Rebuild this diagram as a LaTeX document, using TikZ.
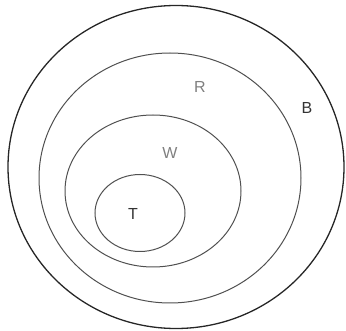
\documentclass[tikz,border=0pt]{standalone}
\usepackage{fontspec}
\setmainfont{Liberation Sans}
\usetikzlibrary{shapes.geometric}
\definecolor{SetGray}{HTML}{505050}
\definecolor{LabelGray}{HTML}{808080}

\begin{document}
\begin{tikzpicture}[x=1pt,y=-1pt,font=\fontsize{16}{18}\selectfont,
    setline/.style={draw=SetGray,line width=1pt,ellipse,inner sep=0pt},
    setlabel/.style={text=LabelGray,inner sep=0pt}]
        \useasboundingbox (0,0) rectangle (346,331);
        \node[draw=black!85,line width=1.3pt,ellipse,inner sep=0pt,minimum width=336pt,minimum height=323pt] (setB) at (176,167) {};
        \node[setline,minimum width=262pt,minimum height=250pt] (setR) at (170,178) {};
        \node[setline,minimum width=176pt,minimum height=152pt] (setW) at (153,191) {};
        \node[setline,minimum width=90pt,minimum height=77pt] (setT) at (140,213) {};
        \node[setlabel] (labR) at (200,87) {R};
        \node[setlabel,text=black!80] (labB) at (307,108) {B};
        \node[setlabel] (labW) at (170,153) {W};
        \node[setlabel,text=black!80] (labT) at (133,214) {T};
      \end{tikzpicture}
\end{document}
